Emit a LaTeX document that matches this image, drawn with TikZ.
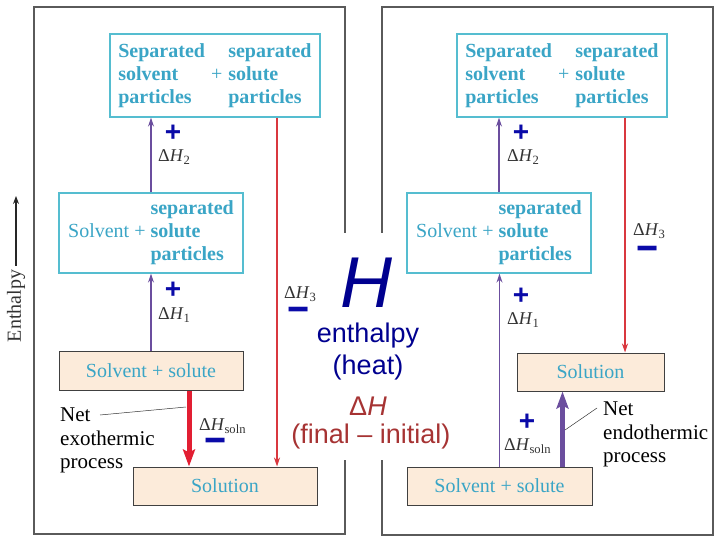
\documentclass[tikz,border=0pt]{standalone}
\usepackage{fontspec}
\setmainfont{Liberation Serif}
\newfontfamily\arialfont{Liberation Sans}
\usetikzlibrary{arrows.meta}
\definecolor{boxcyan}{HTML}{55BDD0}
\definecolor{txtcyan}{HTML}{3AA5C6}
\definecolor{beige}{HTML}{FCEBDA}
\definecolor{uppurple}{HTML}{6B4E9E}
\definecolor{downred}{HTML}{D9383F}
\definecolor{netred}{HTML}{E21E32}
\definecolor{signblue}{HTML}{0A0AA8}
\definecolor{hblue}{HTML}{00008F}
\definecolor{dhred}{HTML}{A63333}
\definecolor{framegray}{HTML}{5A5A5A}
\newcommand{\dH}[1]{Δ\textit{H}\textsubscript{#1}}
\newcommand{\minussign}{\scalebox{1.35}[1.5]{−}}

\begin{document}
\begin{tikzpicture}[x=1pt,y=-1pt]
\tikzstyle{every node}+=[inner sep=0pt]
\tikzstyle{hibox}=[draw=boxcyan,line width=1.3pt,fill=white,text=txtcyan,font=\fontsize{20}{23}\selectfont]
\tikzstyle{lobox}=[draw=black!75,line width=1pt,fill=beige,text=txtcyan,font=\fontsize{20}{23}\selectfont]
\tikzstyle{uparrow}=[draw=uppurple,line width=1.2pt,-{Stealth[length=9pt,width=6pt]}]
\tikzstyle{downarrow}=[draw=downred,line width=1.2pt,-{Stealth[length=9pt,width=6pt]}]
\tikzstyle{netarrow}=[line width=5pt,-{Stealth[length=17pt,width=12pt,inset=3pt]}]
\tikzstyle{lbl}=[text=black!80,font=\fontsize{18}{20}\selectfont,anchor=west]
\tikzstyle{sign}=[text=signblue,font=\arialfont\bfseries\fontsize{28}{28}\selectfont]
\tikzstyle{nettext}=[align=left,anchor=north west,font=\fontsize{21}{23.5}\selectfont]
\tikzstyle{overlay}=[font=\arialfont\fontsize{27}{29}\selectfont,anchor=base]
\useasboundingbox (0,0) rectangle (720,540);
\draw [framegray,line width=1.4pt] (34,7) rectangle (345,534);
\draw [framegray,line width=1.4pt] (382,7) rectangle (713,535);
\node [rotate=90,font=\fontsize{20}{22}\selectfont,text=black!80] (axis) at (16,306) {Enthalpy};
\coordinate (axistop) at (16,196);
\draw [black!85,line width=1.2pt,-{Stealth[length=8pt,width=6pt]}] ([yshift=4pt]axis.east) -- (axistop);
\node [hibox,minimum width=210,minimum height=83] (topL) at (215,75.5) {\begin{tabular}{@{}l@{\hspace{6pt}}c@{\hspace{6pt}}l@{}}\textbf{Separated} & & \textbf{separated}\\ \textbf{solvent} & + & \textbf{solute}\\ \textbf{particles} & & \textbf{particles}\end{tabular}};
\node [hibox,minimum width=184,minimum height=80] (midL) at (151,233) {\begin{tabular}{@{}r@{\hspace{5pt}}l@{}} & \textbf{separated}\\ Solvent + & \textbf{solute}\\ & \textbf{particles}\end{tabular}};
\node [lobox,minimum width=184,minimum height=39] (botL) at (151,370.5) {Solvent + solute};
\node [lobox,minimum width=184,minimum height=38] (solL) at (225,486) {Solution};
\draw [uparrow] (midL.north) -- (midL.north |- topL.south);
\draw [uparrow] (botL.north) -- (midL.south);
\draw [downarrow] ([xshift=62pt]topL.south) -- ([xshift=62pt]topL.south |- solL.north);
\draw [netarrow,netred] ([xshift=38pt]botL.south) -- ([xshift=38pt]botL.south |- solL.north);
\node [sign] (pL2) at (173,133) {+};
\node [lbl] (hL2) at (158,157) {\dH{2}};
\node [sign] (pL1) at (173,290) {+};
\node [lbl] (hL1) at (158,315) {\dH{1}};
\node [lbl] (hL3) at (284,294) {\dH{3}};
\node [sign] (mL3) at (299,315) {\minussign};
\node [lbl] (hLs) at (199,426) {\dH{soln}};
\node [sign] (mLs) at (216,446) {\minussign};
\node [nettext] (netL) at (60,408) {Net\\exothermic\\process};
\coordinate (netLa) at (100,415);
\coordinate (netLb) at (186,407);
\draw [black!80,line width=0.5pt] (netLa) -- (netLb);
\node [hibox,minimum width=210,minimum height=83] (topR) at (562,75.5) {\begin{tabular}{@{}l@{\hspace{6pt}}c@{\hspace{6pt}}l@{}}\textbf{Separated} & & \textbf{separated}\\ \textbf{solvent} & + & \textbf{solute}\\ \textbf{particles} & & \textbf{particles}\end{tabular}};
\node [hibox,minimum width=184,minimum height=80] (midR) at (499,233) {\begin{tabular}{@{}r@{\hspace{5pt}}l@{}} & \textbf{separated}\\ Solvent + & \textbf{solute}\\ & \textbf{particles}\end{tabular}};
\node [lobox,minimum width=147,minimum height=38] (solR) at (590.5,372) {Solution};
\node [lobox,minimum width=185,minimum height=38] (botR) at (499.5,486) {Solvent + solute};
\draw [uparrow] (midR.north) -- (midR.north |- topR.south);
\draw [uparrow] (botR.north) -- (botR.north |- midR.south);
\draw [downarrow] ([xshift=63pt]topR.south) -- ([xshift=63pt]topR.south |- solR.north);
\draw [netarrow,uppurple] ([xshift=63pt]botR.north) -- ([xshift=63pt]botR.north |- solR.south);
\node [sign] (pR2) at (521,133) {+};
\node [lbl] (hR2) at (507,157) {\dH{2}};
\node [lbl] (hR3) at (633,231) {\dH{3}};
\node [sign] (mR3) at (648,254) {\minussign};
\node [sign] (pR1) at (521,296) {+};
\node [lbl] (hR1) at (507,320) {\dH{1}};
\node [sign] (pRs) at (527,422) {+};
\node [lbl] (hRs) at (504,446) {\dH{soln}};
\node [nettext] (netR) at (603,402) {Net\\endothermic\\process};
\coordinate (netRa) at (565,430);
\coordinate (netRb) at (597,408);
\draw [black!80,line width=0.5pt] (netRa) -- (netRb);
\fill [white] (330,233) rectangle (400,460);
\node [overlay,text=hblue,font=\arialfont\itshape\fontsize{72}{72}\selectfont] (bigH) at (366,307) {H};
\node [overlay,text=hblue] (enth) at (368,342) {enthalpy};
\node [overlay,text=hblue] (heat) at (368,374) {(heat)};
\node [overlay,text=dhred] (delH) at (368,415) {Δ\textit{H}};
\node [overlay,text=dhred] (fin) at (371,443) {(final – initial)};
\end{tikzpicture}
\end{document}
